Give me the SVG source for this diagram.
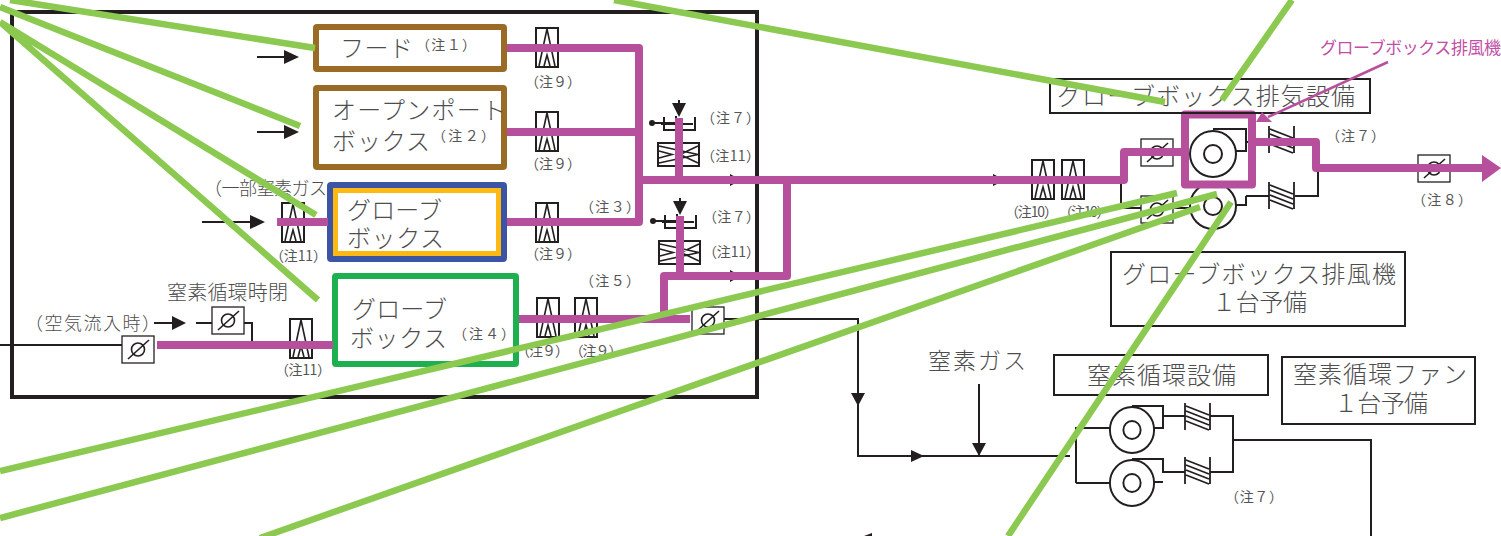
<svg xmlns="http://www.w3.org/2000/svg" width="1501" height="536" viewBox="0 0 1501 536">
<style>
text{font-family:"Noto Sans CJK JP","Noto Sans",sans-serif;font-weight:300;fill:#4d4d4d}
.t{font-size:24px}.n{font-size:14px;font-weight:400;fill:#555}.m{font-size:18px}
.pk{fill:#c14fa6;font-size:17px;font-weight:400}
.box{fill:none;stroke:#231f20;stroke-width:2}
.k{fill:none;stroke:#231f20;stroke-width:2}
.kf{fill:#231f20;stroke:none}
.mg{fill:none;stroke:#b7509c;stroke-width:8;stroke-linejoin:round}
.gr{fill:none;stroke:#8cc950;stroke-width:6.500}
</style>
<defs>
<g id="filter"><rect x="0" y="0" width="22" height="39" fill="#fff" stroke="#231f20" stroke-width="2"/><path d="M11,1L3,38M11,1L19,38M8,38L11,27L14,38" fill="none" stroke="#231f20" stroke-width="1.6"/></g>
<g id="hfilter"><rect x="0" y="0" width="41" height="23" fill="#fff" stroke="#231f20" stroke-width="2"/><path d="M1,3L40,11.5L1,20M1,8L14,11.5L1,15M40,3L22,11.5L40,20" fill="none" stroke="#231f20" stroke-width="1.6"/></g>
<g id="damper"><rect x="0" y="0" width="32" height="27" fill="#fff" stroke="#231f20" stroke-width="1.3"/><circle cx="16" cy="13.5" r="6.5" fill="none" stroke="#231f20" stroke-width="1.6"/><path d="M6,23L27,4" stroke="#231f20" stroke-width="1.6"/></g>
<g id="check"><path d="M0,0V27M25,0V27M1,3L24,12M1,8L24,17M1,13L24,22M1,18L24,27" fill="none" stroke="#231f20" stroke-width="1.800"/></g>
<g id="fan"><circle cx="0" cy="0" r="23" fill="#fff" stroke="#231f20" stroke-width="2"/><circle cx="0" cy="0" r="9" fill="none" stroke="#231f20" stroke-width="2"/></g>
<g id="valve"><path d="M-18,6H-3V-1M-18,7H14M-15,0V13H16V0" fill="none" stroke="#231f20" stroke-width="2"/><circle cx="-27" cy="6" r="3" fill="#231f20"/><path d="M-27,6H-15" stroke="#231f20" stroke-width="2"/></g>
</defs>

<rect id="frame" x="12" y="12" width="745" height="385" fill="none" stroke="#231f20" stroke-width="4"/>

<g id="connectors">
<path class="k" d="M0,345H122"/>
<path class="k" d="M196,323H212M243,323H252V345"/>
<path class="k" d="M724,319H858V456H1070M1076,483V428H1110M1076,483H1110M979,384V456"/>
<path class="k" d="M1154,428H1163V406H1132M1163,416H1185M1210,416H1233V472H1210M1185,472H1163V459H1132M1163,482H1154M1233,440H1371V536"/>
<path class="k" d="M1121,180V208H1141M1174,208H1190M1235,151H1246V129H1213M1246,196V205H1235M1246,196H1269M1295,196H1318V168M1246,142H1269"/>
<path class="k" d="M257,57H285M257,132H285M202,222H252M154,323H174"/>
<path class="kf" d="M284,50L299,57L284,64ZM284,125L299,132L284,139ZM250,215L265,222L250,229ZM172,316L186,323L172,330ZM851,393H865L858,406ZM911,450L924,456L911,462ZM972,443H986L979,456ZM730,174L741,180L730,186ZM730,270L741,276L730,282ZM993,174L1005,180L993,186ZM872,533L864,536H872Z"/>
</g>

<g id="hood"><rect x="316" y="27" width="188" height="42" rx="1" fill="#fff" stroke="#996b25" stroke-width="6"/>
<text class="t" x="340" y="57" textLength="73">フード</text><text class="n" x="416" y="50" textLength="60">（注１）</text></g>
<g id="open-port"><rect x="316" y="88" width="188" height="79" rx="1" fill="#fff" stroke="#996b25" stroke-width="6"/>
<text class="t" x="332" y="119" textLength="174">オープンポート</text><text class="t" x="332" y="150" textLength="98">ボックス</text><text class="n" x="432" y="141" textLength="63">（注２）</text></g>
<g id="glovebox-a"><rect x="330" y="185" width="174" height="74" rx="1" fill="#fff" stroke="#3b54a4" stroke-width="6"/><rect x="335.500" y="190.500" width="163" height="63" fill="#fff" stroke="#fdb913" stroke-width="5"/>
<text class="t" x="347" y="219" textLength="95">グローブ</text><text class="t" x="347" y="247" textLength="97">ボックス</text></g>
<g id="glovebox-b"><rect x="335" y="276" width="181" height="88" rx="1" fill="#fff" stroke="#1eb04f" stroke-width="6"/>
<text class="t" x="352" y="318" textLength="95">グローブ</text><text class="t" x="350" y="347" textLength="97">ボックス</text><text class="n" x="453" y="339" textLength="62">（注４）</text></g>

<g id="filters">
<use href="#filter" x="536" y="28"/><use href="#filter" x="536" y="112"/><use href="#filter" x="536" y="203"/>
<use href="#filter" x="537" y="298"/><use href="#filter" x="575" y="298"/><use href="#filter" x="282" y="203"/><use href="#filter" x="290" y="319"/>
<use href="#filter" x="1032" y="160"/><use href="#filter" x="1062" y="160"/>
<use href="#hfilter" x="658" y="143"/><use href="#hfilter" x="659" y="241"/>
</g>
<g id="dampers">
<use href="#damper" x="122" y="336"/><use href="#damper" x="212" y="307"/><use href="#damper" x="692" y="307"/>
<use href="#damper" x="1141" y="139"/><use href="#damper" x="1141" y="196"/><use href="#damper" x="1418" y="155"/>
</g>
<g id="valves">
<use href="#valve" x="679" y="117"/><use href="#valve" x="680" y="215"/>
<path class="k" d="M679,100V110M680,198V208"/>
<path class="kf" d="M672,103H686L679,117ZM673,201H687L680,215Z"/>
</g>
<g id="fans">
<use href="#fan" x="1213" y="154"/><use href="#fan" x="1213" y="206"/>
<use href="#fan" transform="translate(1132 430) scale(.96 1)"/><use href="#fan" transform="translate(1132 483) scale(.96 1)"/>
<use href="#check" x="1269" y="126"/><use href="#check" x="1269" y="182"/><use href="#check" x="1185" y="403"/><use href="#check" x="1185" y="457"/>
</g>

<g id="ducts">
<path class="mg" d="M507,48H639V222H507M507,132H639M639,180H1124V152H1185M157,345H333M277,222H328M679,118V180M680,216V276M519,319H690M664,319V276H787V180M1252,142H1316V168H1485"/>
<rect class="mg" x="1185" y="114.500" width="67" height="70"/>
<path d="M1482,155L1501,168L1482,182Z" fill="#b7509c"/>
</g>

<g id="labels">
<text class="m" x="204" y="195" textLength="123">（一部窒素ガス</text>
<text class="m" x="167" y="300" textLength="121" style="font-size:20px">窒素循環時閉</text>
<text class="m" x="25" y="330" textLength="135">（空気流入時）</text>
<text class="n" x="525" y="87" textLength="56">（注９）</text><text class="n" x="525" y="169" textLength="56">（注９）</text><text class="n" x="525" y="259" textLength="56">（注９）</text>
<text class="n" x="516" y="356" textLength="53">（注９）</text><text class="n" x="569.500" y="356" textLength="53">（注９）</text>
<text class="n" x="270" y="261" textLength="57">（注11）</text><text class="n" x="275" y="375" textLength="56">（注11）</text>
<text class="n" x="580" y="212" textLength="60">（注３）</text><text class="n" x="580" y="286" textLength="60">（注５）</text>
<text class="n" x="701" y="123" textLength="59">（注７）</text><text class="n" x="701" y="161" textLength="59">（注11）</text>
<text class="n" x="703" y="222" textLength="57">（注７）</text><text class="n" x="703" y="257" textLength="57">（注11）</text>
<text class="n" x="1005" y="217" textLength="53">（注10）</text><text class="n" x="1058.500" y="217" textLength="52">（注10）</text>
<text class="n" x="1326" y="141" textLength="59">（注７）</text><text class="n" x="1412" y="205" textLength="60">（注８）</text><text class="n" x="1225" y="502" textLength="58">（注７）</text>
<text class="t" x="928" y="369" textLength="98" style="font-size:23px">窒素ガス</text>
</g>

<g id="exhaust-title"><rect class="box" x="1050" y="79" width="320" height="34"/><text class="t" x="1057" y="105" textLength="298">グローブボックス排気設備</text></g>
<g id="exhaust-note"><rect class="box" x="1111" y="252" width="294" height="74"/><text class="t" x="1122" y="283" textLength="274">グローブボックス排風機</text><text class="t" x="1212" y="311" textLength="95">１台予備</text></g>
<g id="circ-title"><rect class="box" x="1054" y="355" width="214" height="40"/><text class="t" x="1087" y="384" textLength="149">窒素循環設備</text></g>
<g id="circ-note"><rect class="box" x="1282" y="357" width="193" height="67"/><text class="t" x="1293" y="383" textLength="174">窒素循環ファン</text><text class="t" x="1334" y="412" textLength="94">１台予備</text></g>

<g id="annotations">
<path class="gr" d="M10,0L315,48M0,7L300,126M0,22L316,215M0,22L318,300M614,0L1165,102M1292,0L1222,100M0,471L1177,193M0,518L1217,194M260,538L1200,207M1008,536L1231,202"/>
<text class="pk" x="1320" y="54" textLength="181">グローブボックス排風機</text>
<path d="M1388,62L1268,117" fill="none" stroke="#b7509c" stroke-width="2.500"/>
<path d="M1256,122L1262,112L1272,122Z" fill="#b7509c"/>
</g>
</svg>
